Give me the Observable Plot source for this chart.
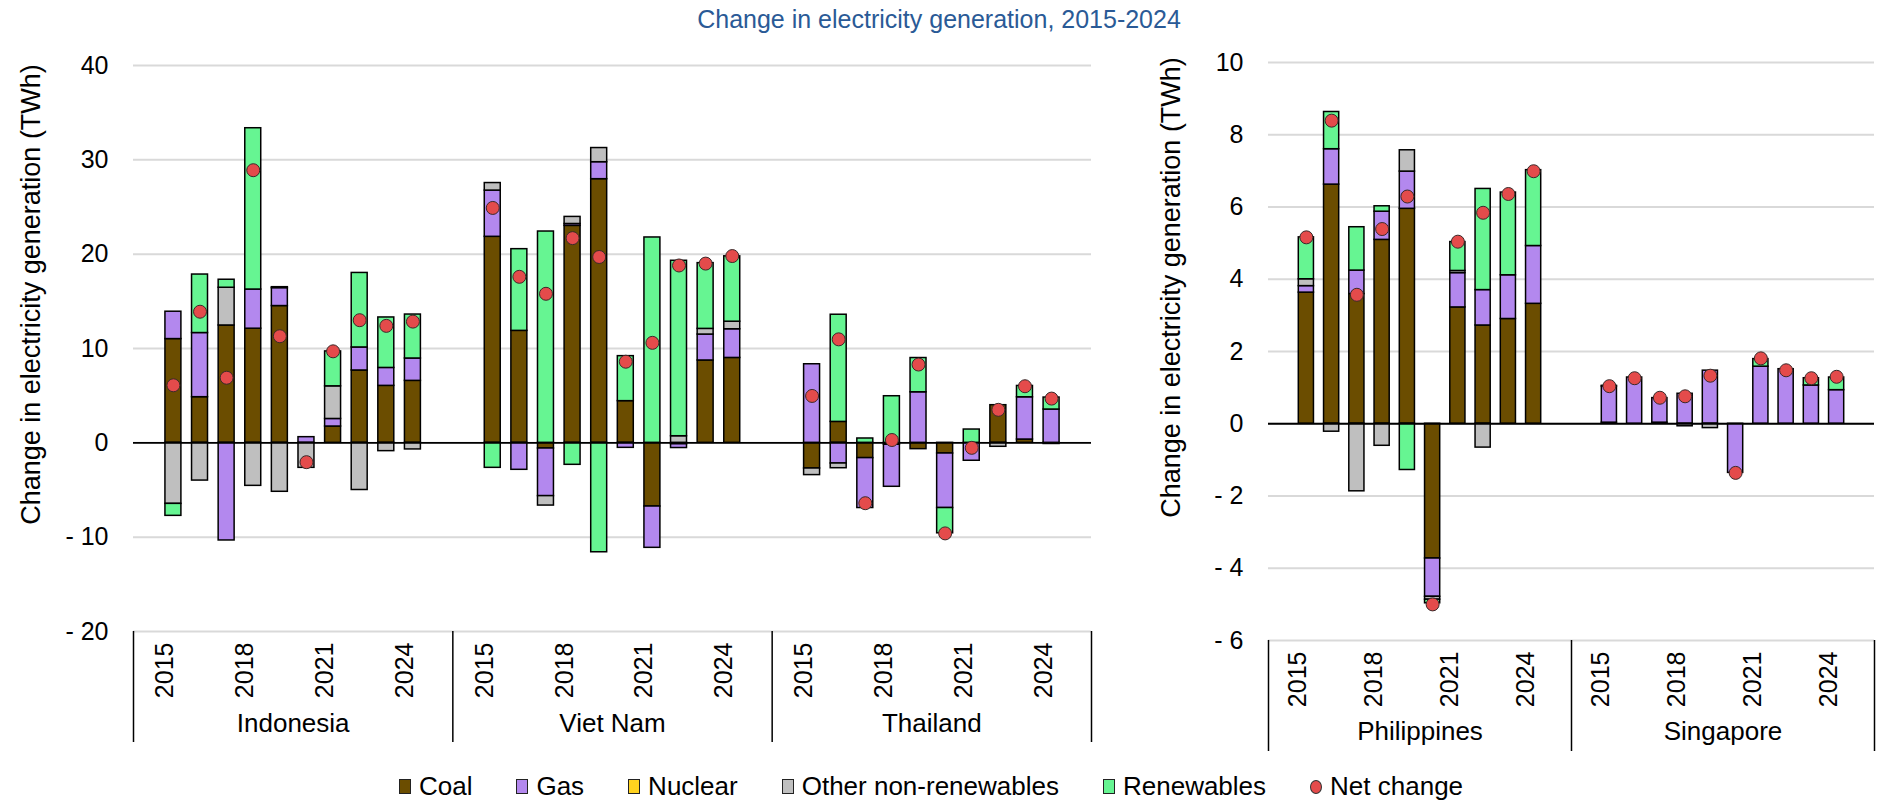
<!DOCTYPE html>
<html>
<head>
<meta charset="utf-8">
<script src="https://cdn.jsdelivr.net/npm/d3@7"></script>
<script src="https://cdn.jsdelivr.net/npm/@observablehq/plot@0.6"></script>
<style>
  body { margin: 0; background: #fff; font-family: "Liberation Sans", Arial, sans-serif; }
  #wrap { position: relative; width: 1878px; height: 802px; overflow: hidden; background: #fff; }
  #title { position: absolute; top: 5px; left: 0; width: 1878px; text-align: center; font-size: 25px; color: #2a5a96; }
  #left { position: absolute; left: 0; top: 35px; }
  #right { position: absolute; left: 1110px; top: 35px; }
  #legend { position: absolute; top: 771px; left: 0; width: 1862px; display: flex; justify-content: center; gap: 44px; font-size: 26px; color: #000; }
  .item { display: flex; align-items: center; gap: 8px; white-space: nowrap; }
  .sw { width: 10px; height: 13px; border: 1px solid #222; }
  .dotsw { width: 10px; height: 12px; border-radius: 50%; border: 1px solid #333; background: #e44b4b; }
</style>
</head>
<body>
<div id="wrap">
  <div id="title">Change in electricity generation, 2015-2024</div>
  <div id="left"></div>
  <div id="right"></div>
  <div id="legend"></div>
</div>
<script>
const years = [2015, 2016, 2017, 2018, 2019, 2020, 2021, 2022, 2023, 2024];
const tickYears = [2015, 2018, 2021, 2024];
const sources = ["Coal", "Gas", "Nuclear", "Other non-renewables", "Renewables"];
const sourceColors = ["#6b4d00", "#b388ee", "#ffd21f", "#bfbfbf", "#66f592"];
const netLabel = "Net change";
const netColor = "#e44b4b";
const yLabel = "Change in electricity generation (TWh)";
const leftCountries = ["Indonesia", "Viet Nam", "Thailand"];
const rightCountries = ["Philippines", "Singapore"];
const leftTicks = [-20, -10, 0, 10, 20, 30, 40];
const rightTicks = [-6, -4, -2, 0, 2, 4, 6, 8, 10];

// Indonesia
const idnCoal    = [11.0, 4.84, 12.44, 12.1, 14.5, 0, 1.73, 7.67, 6.04, 6.57];
const idnGas     = [2.9, 6.8, -10.35, 4.15, 1.9, 0.6, 0.8, 2.44, 1.9, 2.37];
const idnNuclear = [0, 0, 0, 0, 0, 0, 0, 0, 0, 0];
const idnOther   = [-6.47, -4.0, 4.0, -4.56, -5.19, -2.65, 3.46, -5.0, -0.88, -0.7];
const idnRenew   = [-1.27, 6.2, 0.85, 17.1, 0.1, 0, 3.7, 7.9, 5.35, 4.66];
const idnNet     = [6.1, 13.9, 6.9, 28.9, 11.3, -2.05, 9.7, 13.0, 12.4, 12.85];

// Viet Nam
const vnmCoal    = [21.84, 11.87, -0.6, 23.0, 27.95, 4.42, -6.75, -0.15, 8.73, 9.0];
const vnmGas     = [4.9, -2.86, -5.05, 0.2, 1.8, -0.53, -4.38, -0.4, 2.75, 3.04];
const vnmNuclear = [0, 0, 0, 0, 0, 0, 0, 0, 0, 0];
const vnmOther   = [0.8, 0, -1.0, 0.75, 1.5, 0, 0, 0.7, 0.6, 0.8];
const vnmRenew   = [-2.65, 8.66, 22.4, -2.33, -11.6, 4.77, 21.77, 18.6, 6.97, 6.93];
const vnmNet     = [24.9, 17.6, 15.8, 21.7, 19.7, 8.6, 10.6, 18.8, 19.0, 19.8];

// Thailand
const thaCoal    = [-2.72, 2.22, -1.62, -0.2, -0.67, -1.13, 0, 3.99, 0.35, -0.12];
const thaGas     = [8.33, -2.19, -5.29, -4.46, 5.36, -5.78, -1.9, 0, 4.48, 3.53];
const thaNuclear = [0, 0, 0, 0, 0, 0, 0, 0, 0, 0];
const thaOther   = [-0.7, -0.5, 0, 0, 0, 0, 0, -0.42, 0, 0];
const thaRenew   = [0, 11.36, 0.46, 4.94, 3.63, -2.68, 1.41, 0, 1.2, 1.27];
const thaNet     = [4.97, 10.97, -6.4, 0.3, 8.3, -9.6, -0.53, 3.5, 6.0, 4.69];

// Philippines
const phlCoal    = [3.63, 6.62, 3.59, 5.09, 5.95, -3.73, 3.22, 2.72, 2.9, 3.32];
const phlGas     = [0.18, 0.98, 0.65, 0.78, 1.03, -1.06, 0.95, 0.98, 1.21, 1.6];
const phlNuclear = [0, 0, 0, 0, 0, 0, 0, 0, 0, 0];
const phlOther   = [0.19, -0.22, -1.87, -0.61, 0.59, -0.08, 0.06, -0.66, 0, 0];
const phlRenew   = [1.16, 1.03, 1.2, 0.15, -1.28, -0.1, 0.8, 2.8, 2.29, 2.1];
const phlNet     = [5.16, 8.39, 3.57, 5.39, 6.29, -5.0, 5.04, 5.84, 6.36, 6.99];

// Singapore
const sgpCoal    = [0.03, 0, 0.03, 0, 0, 0, 0, 0, 0, 0];
const sgpGas     = [1.0, 1.28, 0.68, 0.83, 1.47, -1.36, 1.58, 1.51, 1.06, 0.93];
const sgpNuclear = [0, 0, 0, 0, 0, 0, 0, 0, 0, 0];
const sgpOther   = [0, 0, 0, -0.07, -0.12, 0, 0, 0, 0, 0];
const sgpRenew   = [0.02, 0, 0, 0, 0, 0, 0.21, 0, 0.2, 0.35];
const sgpNet     = [1.04, 1.26, 0.72, 0.76, 1.33, -1.36, 1.81, 1.48, 1.26, 1.3];

const seriesByCountry = new Map([
  ["Indonesia",   [idnCoal, idnGas, idnNuclear, idnOther, idnRenew]],
  ["Viet Nam",    [vnmCoal, vnmGas, vnmNuclear, vnmOther, vnmRenew]],
  ["Thailand",    [thaCoal, thaGas, thaNuclear, thaOther, thaRenew]],
  ["Philippines", [phlCoal, phlGas, phlNuclear, phlOther, phlRenew]],
  ["Singapore",   [sgpCoal, sgpGas, sgpNuclear, sgpOther, sgpRenew]]
]);
const netByCountry = new Map([
  ["Indonesia", idnNet], ["Viet Nam", vnmNet], ["Thailand", thaNet],
  ["Philippines", phlNet], ["Singapore", sgpNet]
]);

const fmt = d => d < 0 ? "- " + Math.abs(d) : String(d);

function panel(o) {
  const {countries, ticks, width, height, marginTop, marginBottom, marginLeft, marginRight, labelDx, labelDy, sepLen, countryDy} = o;
  const slots = countries.flatMap(c => [c + "|a", ...years.map(y => c + "|" + y), c + "|b"]);
  const rows = countries.flatMap(c => sources.flatMap((s, si) =>
    years.map((y, i) => ({slot: c + "|" + y, source: s, value: seriesByCountry.get(c)[si][i]}))
  )).filter(d => d.value !== 0);
  const netRows = countries.flatMap(c => years.map((y, i) => ({slot: c + "|" + y, value: netByCountry.get(c)[i]})));
  const tickRows = countries.flatMap(c => tickYears.map(y => ({slot: c + "|" + y, label: String(y)})));
  const countryRows = countries.map(c => ({slot: c + "|2019", label: c}));
  const sepRows = countries.map(c => ({slot: c + "|a"}));
  const endRows = [{slot: countries[countries.length - 1] + "|b"}];
  const yMin = ticks[0], yMax = ticks[ticks.length - 1];
  const plotW = width - marginLeft - marginRight;
  const plotH = height - marginTop - marginBottom;
  const step = plotW / slots.length;
  const ySep = yMin - sepLen / (plotH / (yMax - yMin));
  return Plot.plot({
    width, height, marginTop, marginBottom, marginLeft, marginRight,
    style: {fontFamily: "Liberation Sans, Arial, sans-serif", fontSize: "25px", overflow: "visible", background: "transparent", color: "#000"},
    x: {domain: slots, paddingInner: 0.4, paddingOuter: 0.2, round: false, axis: null},
    y: {domain: [yMin, yMax], axis: null},
    color: {domain: sources, range: sourceColors},
    marks: [
      Plot.gridY(ticks, {stroke: "#d9d9d9", strokeOpacity: 1, strokeWidth: 2}),
      Plot.axisY(ticks, {tickSize: 0, tickPadding: 25, tickFormat: fmt, fontSize: 25, label: null}),
      Plot.text([yLabel], {text: d => d, frameAnchor: "left", textAnchor: "middle", rotate: -90, dx: labelDx, dy: labelDy, fontSize: 27}),
      Plot.barY(rows, {x: "slot", y: "value", fill: "source", order: sources, stroke: "#000", strokeWidth: 1.5}),
      Plot.ruleY([0], {stroke: "#000", strokeWidth: 1.8}),
      Plot.dot(netRows, {x: "slot", y: "value", r: 6.5, fill: netColor, stroke: "#3a2a2a", strokeWidth: 1}),
      Plot.text(tickRows, {x: "slot", text: "label", frameAnchor: "bottom", rotate: -90, textAnchor: "end", dy: 11, fontSize: 25}),
      Plot.text(countryRows, {x: "slot", text: "label", frameAnchor: "bottom", dx: step / 2, dy: countryDy, fontSize: 26}),
      Plot.ruleX(sepRows, {x: "slot", y1: yMin, y2: ySep, dx: -step / 2, stroke: "#000", strokeWidth: 1.5}),
      Plot.ruleX(endRows, {x: "slot", y1: yMin, y2: ySep, dx: step / 2, stroke: "#000", strokeWidth: 1.5})
    ]
  });
}

document.getElementById("left").appendChild(panel({
  countries: leftCountries, ticks: leftTicks,
  width: 1110, height: 730, marginTop: 30, marginBottom: 134, marginLeft: 133, marginRight: 19,
  labelDx: -102, labelDy: -54, sepLen: 111, countryDy: 100
}));
document.getElementById("right").appendChild(panel({
  countries: rightCountries, ticks: rightTicks,
  width: 768, height: 730, marginTop: 27, marginBottom: 125, marginLeft: 158, marginRight: 4,
  labelDx: -97, labelDy: -64, sepLen: 111, countryDy: 99
}));

const legend = document.getElementById("legend");
sources.forEach((s, i) => {
  const it = document.createElement("div");
  it.className = "item";
  const sw = document.createElement("span");
  sw.className = "sw";
  sw.style.background = sourceColors[i];
  const tx = document.createElement("span");
  tx.textContent = s;
  it.appendChild(sw); it.appendChild(tx);
  legend.appendChild(it);
});
{
  const it = document.createElement("div");
  it.className = "item";
  const sw = document.createElement("span");
  sw.className = "dotsw";
  const tx = document.createElement("span");
  tx.textContent = netLabel;
  it.appendChild(sw); it.appendChild(tx);
  legend.appendChild(it);
}
</script>
</body>
</html>
